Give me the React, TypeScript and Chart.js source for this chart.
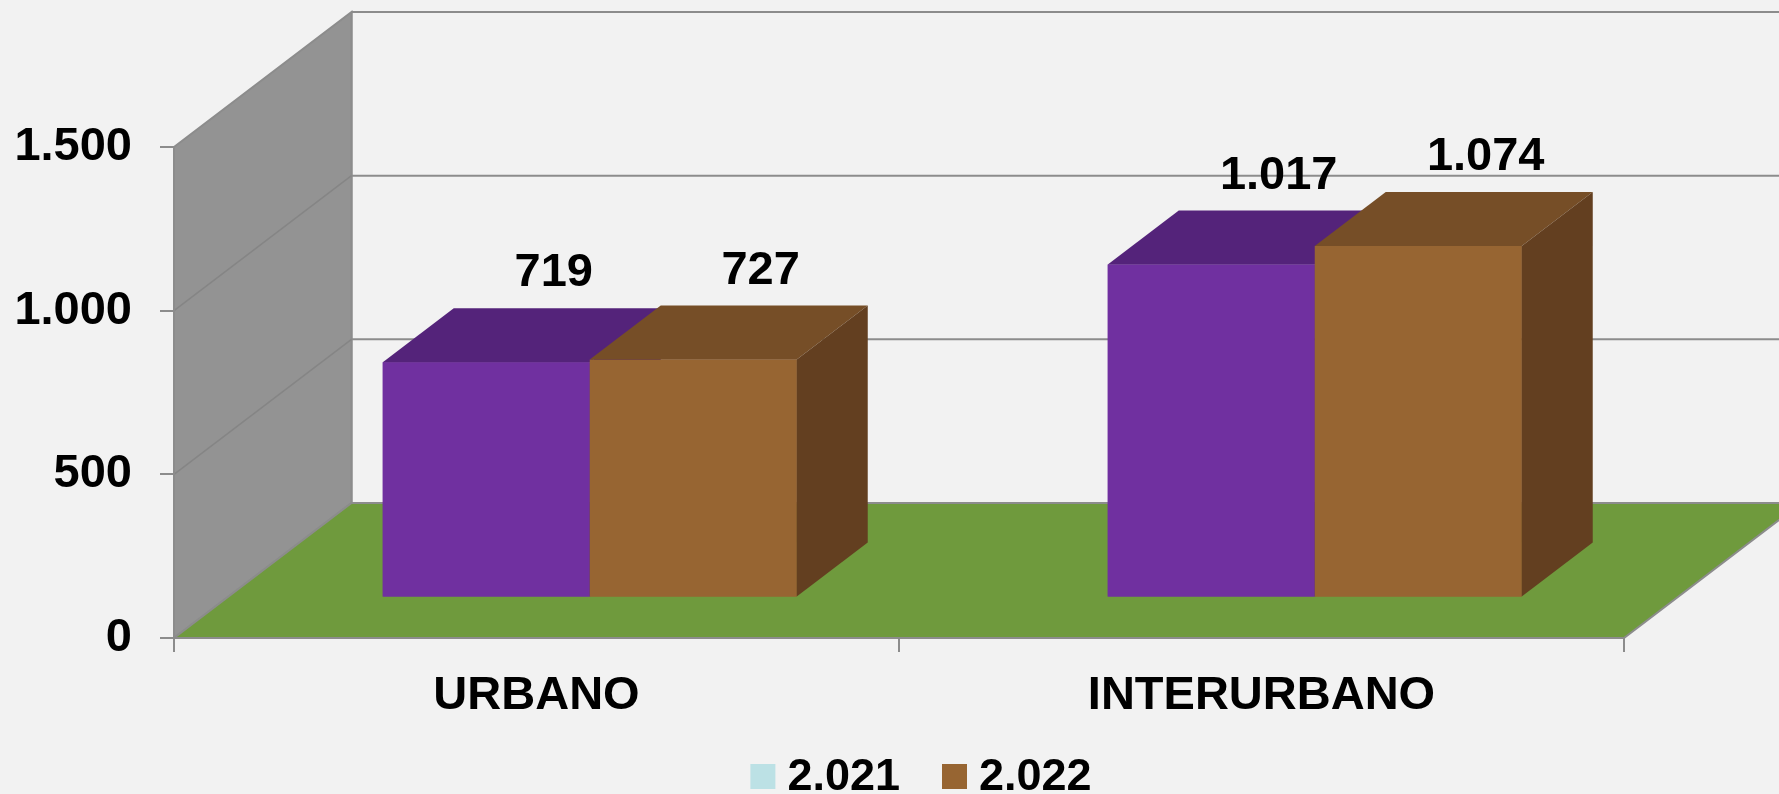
import React, { useEffect, useRef } from 'react';
import { Chart, registerables } from 'chart.js';

Chart.register(...registerables);

// ---- data ----
const categories = ['URBANO', 'INTERURBANO'];
const seriesLabels = ['2.021', '2.022'];
const values2021 = [719, 1017];
const values2022 = [727, 1074];
const yTickValues = [0, 500, 1000, 1500];

// ---- style ----
const W = 1779;
const H = 794;
const FONT = '"Liberation Sans", Arial, Helvetica, sans-serif';
const BG = '#F2F2F2';
const frontColors = ['#7030A0', '#976532'];
const topColors = ['#54237A', '#764E27'];
const sideColors = ['#4A1E6C', '#633F20'];
const legendSwatches = ['#BCE1E5', '#976532'];
const FLOOR = '#6F9A3D';
const WALL = '#939393';
const LINE = '#8C8C8C';
const WALL_GRID = '#858585';
const DEPTH_X = 177.5;
const DEPTH_Y = 135;
const BAR_FRONT = 0.3;
const BAR_DEPTH = 0.4;
const LEGEND_CENTER_X = 921;
const LEGEND_BOX_TOP = 764;
const LEGEND_BASELINE = 790;

function fmt(v: number): string {
  return String(Math.round(v)).replace(/\B(?=(\d{3})+(?!\d))/g, '.');
}

function poly(ctx: CanvasRenderingContext2D, pts: number[][], fill?: string, stroke?: string, lw = 2) {
  ctx.beginPath();
  ctx.moveTo(pts[0][0], pts[0][1]);
  for (let i = 1; i < pts.length; i++) ctx.lineTo(pts[i][0], pts[i][1]);
  ctx.closePath();
  if (fill) {
    ctx.fillStyle = fill;
    ctx.fill();
  }
  if (stroke) {
    ctx.strokeStyle = stroke;
    ctx.lineWidth = lw;
    ctx.stroke();
  }
}

function seg(ctx: CanvasRenderingContext2D, x1: number, y1: number, x2: number, y2: number, color: string, lw = 2) {
  ctx.beginPath();
  ctx.moveTo(x1, y1);
  ctx.lineTo(x2, y2);
  ctx.strokeStyle = color;
  ctx.lineWidth = lw;
  ctx.stroke();
}

const threeD = {
  id: 'threeD',
  beforeDraw(chart: any) {
    const { ctx, chartArea: a } = chart;
    const y = chart.scales.y;
    ctx.save();
    ctx.fillStyle = BG;
    ctx.fillRect(0, 0, chart.width, chart.height);
    const bx = a.left + DEPTH_X;
    const by = a.bottom - DEPTH_Y;
    const topY = y.getPixelForValue(y.max);
    // back wall grid lines
    for (const v of yTickValues) {
      const py = y.getPixelForValue(v) - DEPTH_Y;
      seg(ctx, bx, py, chart.width, py, LINE, 2);
    }
    // back wall left edge
    seg(ctx, bx, topY - DEPTH_Y, bx, by, LINE, 2);
    // side wall
    poly(ctx, [[a.left, topY], [bx, topY - DEPTH_Y], [bx, by], [a.left, a.bottom]], WALL, LINE, 2);
    for (const v of yTickValues) {
      if (v === y.min || v === y.max) continue;
      const py = y.getPixelForValue(v);
      seg(ctx, a.left, py, bx, py - DEPTH_Y, WALL_GRID, 1.5);
    }
    // floor
    poly(ctx, [[a.left, a.bottom], [a.right, a.bottom], [a.right + DEPTH_X, by], [bx, by]], FLOOR, LINE, 2);
    ctx.restore();
  },
  beforeDatasetsDraw(chart: any) {
    const ctx = chart.ctx;
    ctx.save();
    ctx.translate(DEPTH_X * BAR_FRONT, -DEPTH_Y * BAR_FRONT);
  },
  afterDatasetsDraw(chart: any) {
    const ctx = chart.ctx;
    const bdx = DEPTH_X * BAR_DEPTH;
    const bdy = DEPTH_Y * BAR_DEPTH;
    const n = chart.data.labels.length;
    const nd = chart.data.datasets.length;
    for (let j = 0; j < n; j++) {
      for (let i = 0; i < nd; i++) {
        const el = chart.getDatasetMeta(i).data[j];
        if (!el) continue;
        const p = el.getProps(['x', 'y', 'base', 'width'], true);
        const l = p.x - p.width / 2;
        const r = p.x + p.width / 2;
        const t = p.y;
        const b = p.base;
        poly(ctx, [[l, t], [r, t], [r, b], [l, b]], frontColors[i]);
        poly(ctx, [[l, t], [r, t], [r + bdx, t - bdy], [l + bdx, t - bdy]], topColors[i]);
        poly(ctx, [[r, t], [r + bdx, t - bdy], [r + bdx, b - bdy], [r, b]], sideColors[i]);
      }
    }
    ctx.restore();

    // value labels
    ctx.save();
    ctx.font = `bold 47px ${FONT}`;
    ctx.fillStyle = '#000';
    ctx.textAlign = 'center';
    ctx.textBaseline = 'alphabetic';
    const ox = DEPTH_X * BAR_FRONT;
    const oy = DEPTH_Y * BAR_FRONT;
    for (let i = 0; i < nd; i++) {
      const meta = chart.getDatasetMeta(i);
      meta.data.forEach((el: any, j: number) => {
        const v = chart.data.datasets[i].data[j];
        const p = el.getProps(['x', 'y'], true);
        ctx.fillText(fmt(v), p.x + ox + bdx * 0.95, p.y - oy - bdy - 22);
      });
    }
    ctx.restore();
  },
  afterDraw(chart: any) {
    // legend
    const ctx = chart.ctx;
    ctx.save();
    ctx.font = `bold 45px ${FONT}`;
    const box = 25;
    const gap = 12;
    const itemGap = 42;
    const labels = chart.data.datasets.map((d: any) => d.label);
    const widths = labels.map((s: string) => box + gap + ctx.measureText(s).width);
    const total = widths.reduce((s: number, w: number) => s + w, 0) + itemGap * (labels.length - 1);
    let x = LEGEND_CENTER_X - total / 2;
    labels.forEach((s: string, i: number) => {
      ctx.fillStyle = legendSwatches[i];
      ctx.fillRect(x, LEGEND_BOX_TOP, box, box);
      ctx.fillStyle = '#000';
      ctx.textAlign = 'left';
      ctx.textBaseline = 'alphabetic';
      ctx.fillText(s, x + box + gap, LEGEND_BASELINE);
      x += widths[i] + itemGap;
    });
    ctx.restore();
  },
};

export default function App() {
  const ref = useRef<HTMLCanvasElement | null>(null);
  useEffect(() => {
    document.body.style.margin = '0';
    document.body.style.background = BG;
    const canvas = ref.current;
    if (!canvas) return;
    const tickFont = { family: FONT, size: 47, weight: 'bold' as const };
    const chart = new Chart(canvas, {
      type: 'bar',
      data: {
        labels: categories,
        datasets: [
          { label: seriesLabels[0], data: values2021, backgroundColor: frontColors[0], borderWidth: 0, clip: false as any },
          { label: seriesLabels[1], data: values2022, backgroundColor: frontColors[1], borderWidth: 0, clip: false as any },
        ],
      },
      options: {
        responsive: false,
        animation: false,
        devicePixelRatio: 1,
        layout: { padding: { top: 147, right: 155, bottom: 0, left: 0 } },
        datasets: { bar: { categoryPercentage: 0.571, barPercentage: 1 } },
        plugins: { legend: { display: false }, tooltip: { enabled: false } },
        scales: {
          x: {
            grid: { drawOnChartArea: false, drawTicks: true, tickLength: 14, color: LINE, lineWidth: 2, offset: true },
            border: { display: true, color: LINE, width: 2 },
            ticks: { color: '#000', font: tickFont, padding: 16, maxRotation: 0 },
            afterFit: (s: any) => { s.height = 156; },
          },
          y: {
            min: 0,
            max: 1500,
            ticks: { stepSize: 500, color: '#000', font: tickFont, padding: 28, callback: (v: any) => fmt(Number(v)) },
            grid: { drawOnChartArea: false, drawTicks: true, tickLength: 14, color: LINE, lineWidth: 2 },
            border: { display: true, color: LINE, width: 2 },
            afterFit: (s: any) => { s.width = 174; },
          },
        },
      },
      plugins: [threeD],
    });
    return () => chart.destroy();
  }, []);
  return (
    <div style={{ position: 'fixed', left: 0, top: 0, width: W, height: H, overflow: 'hidden', background: BG }}>
      <canvas ref={ref} width={W} height={H} style={{ display: 'block', width: W, height: H }} />
    </div>
  );
}
